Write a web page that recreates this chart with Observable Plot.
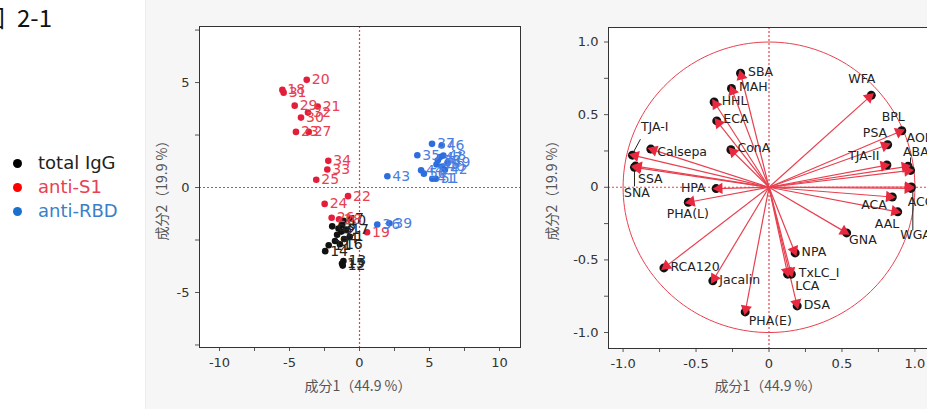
<!DOCTYPE html>
<html><head><meta charset="utf-8">
<script src="https://cdn.jsdelivr.net/npm/d3@7"></script>
<script src="https://cdn.jsdelivr.net/npm/@observablehq/plot@0.6"></script>
<style>
html,body{margin:0;padding:0;width:927px;height:409px;overflow:hidden;background:#fff;font-family:"DejaVu Sans",sans-serif;position:relative;}
#bg{position:absolute;left:145px;top:0;width:782px;height:409px;background:#f6f6f6;border-left:1px solid #ececec;}
.ttl{position:absolute;top:5px;font-family:"Noto Sans CJK JP",sans-serif;font-size:24px;line-height:24px;color:#111;white-space:nowrap;}
#legend{position:absolute;left:13px;top:151px;font-family:"DejaVu Sans",sans-serif;font-size:18px;line-height:24px;}
#legend .it{display:flex;align-items:center;white-space:nowrap;}
#legend .dot{width:9px;height:9px;border-radius:50%;display:inline-block;margin-right:16px;}
.pl{position:absolute;top:0;height:409px;}
.pl svg{max-width:none !important;display:block;}
.xl{position:absolute;font-family:"Noto Sans CJK JP",sans-serif;font-size:14px;color:#555;white-space:nowrap;transform:translate(-50%,-50%);}
.yl{position:absolute;font-family:"Noto Sans CJK JP",sans-serif;font-size:14px;color:#555;white-space:nowrap;transform:translate(-50%,-50%) rotate(-90deg);}
</style></head><body>
<div id="bg"></div>
<div class="ttl" style="left:-19px">図</div>
<div class="ttl" style="left:17px">2-1</div>
<div id="legend"></div>
<div id="left" class="pl" style="left:150px;width:380px"></div>
<div id="right" class="pl" style="left:540px;width:400px"></div>
<div class="xl" style="left:358px;top:385px">成分1（44.9 %）</div>
<div class="yl" style="left:161px;top:187px">成分2（19.9 %）</div>
<div class="xl" style="left:768px;top:385px">成分1（44.9 %）</div>
<div class="yl" style="left:551px;top:187px">成分2（19.9 %）</div>
<script>
// ---------- Score plot data ----------
const groups = ["total IgG", "anti-S1", "anti-RBD"];
const groupDot = ["#111111", "#e41e3a", "#2c6de0"];
const groupText = ["#222222", "#e8404f", "#4a7ee0"];
const legendDot = ["#000000", "#ff0000", "#1a6fcf"];
const legendText = ["#222222", "#e84050", "#3a80c8"];

const iggIds = [1,2,3,4,5,6,7,8,9,10,11,12,13,14,15,16,17];
const iggPC1 = [-0.70,-1.30,-1.50,-1.10,-1.60,-1.95,-0.68,-1.25,-1.75,-1.15,-2.20,-1.20,-1.15,-2.45,-1.25,-1.40,-0.95];
const iggPC2 = [-2.35,-2.10,-1.95,-2.45,-2.25,-1.85,-1.49,-1.80,-2.55,-1.58,-2.75,-3.72,-3.50,-3.03,-3.62,-2.70,-2.00];

const s1Ids = [18,19,20,21,22,23,24,25,26,27,28,29,30,31,32,33,34];
const s1PC1 = [-5.51,0.54,-3.77,-2.99,-0.82,-4.54,-2.49,-3.09,-1.99,-3.63,-1.46,-4.63,-4.18,-5.42,-3.68,-2.30,-2.23];
const s1PC2 = [4.65,-2.13,5.13,3.86,-0.41,2.65,-0.78,0.37,-1.44,2.65,-1.51,3.90,3.33,4.52,3.57,0.86,1.27];

const rbdIds = [35,36,37,38,39,40,41,42,43,44,45,46,47,48,49,50,51];
const rbdPC1 = [4.13,1.27,5.18,5.60,2.13,5.90,5.20,6.10,1.99,4.40,5.50,5.87,5.75,5.99,6.30,4.60,5.45];
const rbdPC2 = [1.54,-1.76,2.08,1.30,-1.70,1.00,0.42,0.85,0.54,0.82,1.10,2.00,1.45,1.52,1.20,0.66,0.42];

const scoreXTicks = [-10,-7.5,-5,-2.5,0,2.5,5,7.5,10];
const scoreYTicks = [-7.5,-5,-2.5,0,2.5,5,7.5];
const scoreXLabels = [-10,-5,0,5,10];
const scoreYLabels = [-5,0,5];

// ---------- Loading plot data ----------
const lectins = ["SBA","MAH","HHL","ECA","ConA","Calsepa","TJA-I","SSA","SNA","HPA","PHA(L)","RCA120","Jacalin","PHA(E)","NPA","TxLC_I","LCA","DSA","GNA","WFA","BPL","PSA","TJA-II","AOL","ABA","ACG","WGA","ACA","AAL"];
const load1 = [-0.195,-0.257,-0.376,-0.358,-0.261,-0.810,-0.936,-0.915,-0.922,-0.362,-0.553,-0.720,-0.385,-0.163,0.179,0.153,0.128,0.193,0.532,0.701,0.910,0.813,0.808,0.953,0.970,0.975,0.972,0.845,0.882];
const load2 = [0.785,0.680,0.587,0.457,0.258,0.263,0.221,0.146,0.137,-0.009,-0.103,-0.555,-0.644,-0.858,-0.452,-0.598,-0.598,-0.817,-0.314,0.633,0.389,0.293,0.153,0.144,0.116,0.002,-0.008,-0.067,-0.169];

const loadTicks = [-1,-0.75,-0.5,-0.25,0,0.25,0.5,0.75,1];
const loadLabels = [-1,-0.5,0,0.5,1];

// label placement (pixels): [dx, dy, anchor]
const labelLayout = {
  "SBA":[8,-1,"start"],"MAH":[8,-1,"start"],"HHL":[8,-1,"start"],"ECA":[7,-1,"start"],
  "ConA":[7,-1,"start"],"Calsepa":[7,3,"start"],"TJA-I":[9,-28,"start"],"SSA":[3,13,"start"],
  "SNA":[-10,26,"start"],"HPA":[-10,0,"end"],"PHA(L)":[0,12,"middle"],"RCA120":[7,0,"start"],
  "Jacalin":[7,0,"start"],"PHA(E)":[4,10,"start"],"NPA":[7,0,"start"],"TxLC_I":[8,-1,"start"],
  "LCA":[8,12,"start"],"DSA":[7,0,"start"],"GNA":[3,8,"start"],"WFA":[-9,-16,"middle"],
  "BPL":[-8,-13,"middle"],"PSA":[0,-11,"end"],"TJA-II":[-7,-9,"end"],"AOL":[-1,-28,"start"],
  "ABA":[-7,-18,"start"],"ACG":[-3,16,"start"],"WGA":[-10,47,"start"],"ACA":[-5,8,"end"],"AAL":[2,13,"end"]
};
// leader lines (pixel offsets from the point): [[dx1,dy1],[dx2,dy2]]
const leaderLayout = {
  "TJA-I":[[1,-3],[8,-16]],
  "SNA":[[0,3],[0,19]],
  "ABA":[[0,-3],[0,-13]],
  "WGA":[[2,3],[2,42]]
};

// ---------- Legend ----------
const leg = document.getElementById("legend");
groups.forEach((g,i)=>{
  const d = document.createElement("div"); d.className="it";
  d.innerHTML = `<span class="dot" style="background:${legendDot[i]}"></span><span style="color:${legendText[i]}">${g}</span>`;
  leg.appendChild(d);
});

// ---------- Score plot ----------
const scores = [];
[[iggIds,iggPC1,iggPC2],[s1Ids,s1PC1,s1PC2],[rbdIds,rbdPC1,rbdPC2]].forEach(([ids,a,b],gi)=>{
  ids.forEach((id,i)=>scores.push({id, pc1:a[i], pc2:b[i], g:gi}));
});
const refStyle = {stroke:"#e8404f", strokeWidth:1.2, strokeDasharray:"2,2"};

const left = Plot.plot({
  width: 380, height: 409,
  marginLeft: 49, marginRight: 10, marginTop: 26, marginBottom: 62,
  style: {fontFamily:"DejaVu Sans", fontSize:"13px", color:"#333", background:"transparent", overflow:"visible"},
  x: {domain:[-11.43, 11.5]},
  y: {domain:[-7.62, 7.67]},
  marks: [
    Plot.frame({fill:"white", stroke:"none"}),
    Plot.axisX({ticks: scoreXTicks, tickFormat: d => scoreXLabels.includes(d) ? String(d) : "", tickSize:4, tickPadding:6, label:null, stroke:"#555"}),
    Plot.axisY({ticks: scoreYTicks, tickFormat: d => scoreYLabels.includes(d) ? String(d) : "", tickSize:4, tickPadding:6, label:null, stroke:"#555"}),
    Plot.ruleX([0], refStyle),
    Plot.ruleY([0], refStyle),
    Plot.dot(scores, {x:"pc1", y:"pc2", r:3.3, fill: d=>groupDot[d.g], stroke:"none"}),
    Plot.text(scores, {x:"pc1", y:"pc2", text:d=>String(d.id), dx:5, textAnchor:"start", fill:d=>groupText[d.g], fontSize:14}),
    Plot.frame({stroke:"#333", strokeWidth:1})
  ]
});
document.getElementById("left").appendChild(left);

// ---------- Loading plot ----------
const loads = lectins.map((n,i)=>({name:n, x:load1[i], y:load2[i]}));
const pxPerUnit = 145.5;
const headBack = 3 / pxPerUnit;
const heads = loads.map(d=>{
  const len = Math.hypot(d.x,d.y);
  return {x: d.x - d.x/len*headBack, y: d.y - d.y/len*headBack, rot: Math.atan2(d.x, d.y)*180/Math.PI};
});
const circle = d3.range(0, 361, 2).map(a=>({x:Math.cos(a*Math.PI/180), y:Math.sin(a*Math.PI/180)}));
const leaders = Object.entries(leaderLayout).map(([n,[[a,b],[c,e]]])=>{
  const p = loads.find(d=>d.name===n);
  return {x1:p.x+a/pxPerUnit, y1:p.y-b/pxPerUnit, x2:p.x+c/pxPerUnit, y2:p.y-e/pxPerUnit};
});
const fmtLoad = d => loadLabels.includes(d) ? (d===0 ? "0" : d.toFixed(1)) : "";

const right = Plot.plot({
  width: 400, height: 409,
  marginLeft: 68, marginRight: 11, marginTop: 27, marginBottom: 61,
  style: {fontFamily:"DejaVu Sans", fontSize:"13px", color:"#333", background:"transparent", overflow:"visible"},
  x: {domain:[-1.1, 1.1]},
  y: {domain:[-1.11, 1.1]},
  marks: [
    Plot.frame({fill:"white", stroke:"none"}),
    Plot.axisX({ticks: loadTicks, tickFormat: fmtLoad, tickSize:4, tickPadding:6, label:null, stroke:"#555"}),
    Plot.axisY({ticks: loadTicks, tickFormat: fmtLoad, tickSize:4, tickPadding:6, label:null, stroke:"#555"}),
    Plot.ruleX([0], refStyle),
    Plot.ruleY([0], refStyle),
    Plot.line(circle, {x:"x", y:"y", stroke:"#e8404f", strokeWidth:1}),
    Plot.link(loads, {x1:0, y1:0, x2:"x", y2:"y", stroke:"#e8404f", strokeWidth:1.2}),
    Plot.dot(loads, {x:"x", y:"y", r:4.5, fill:"#111", stroke:"none"}),
    Plot.dot(heads, {x:"x", y:"y", symbol:"triangle", r:4.2, rotate:"rot", fill:"#e8283f", stroke:"none"}),
    Plot.link(leaders, {x1:"x1", y1:"y1", x2:"x2", y2:"y2", stroke:"#222", strokeWidth:1}),
    Plot.frame({stroke:"#333", strokeWidth:1})
  ]
});
document.getElementById("right").appendChild(right);

// lectin labels, placed with the plot's own scales plus pixel offsets
(function placeLabels(){
  const xs = right.scale("x"), ys = right.scale("y");
  const g = document.createElementNS("http://www.w3.org/2000/svg","g");
  g.setAttribute("font-size","12.5");
  g.setAttribute("fill","#222");
  loads.forEach(d=>{
    const [dx,dy,anchor] = labelLayout[d.name];
    const t = document.createElementNS("http://www.w3.org/2000/svg","text");
    t.setAttribute("x", xs.apply(d.x)+dx);
    t.setAttribute("y", ys.apply(d.y)+dy);
    t.setAttribute("dy","0.32em");
    t.setAttribute("text-anchor", anchor);
    t.textContent = d.name;
    g.appendChild(t);
  });
  right.appendChild(g);
})();
</script>
</body></html>
